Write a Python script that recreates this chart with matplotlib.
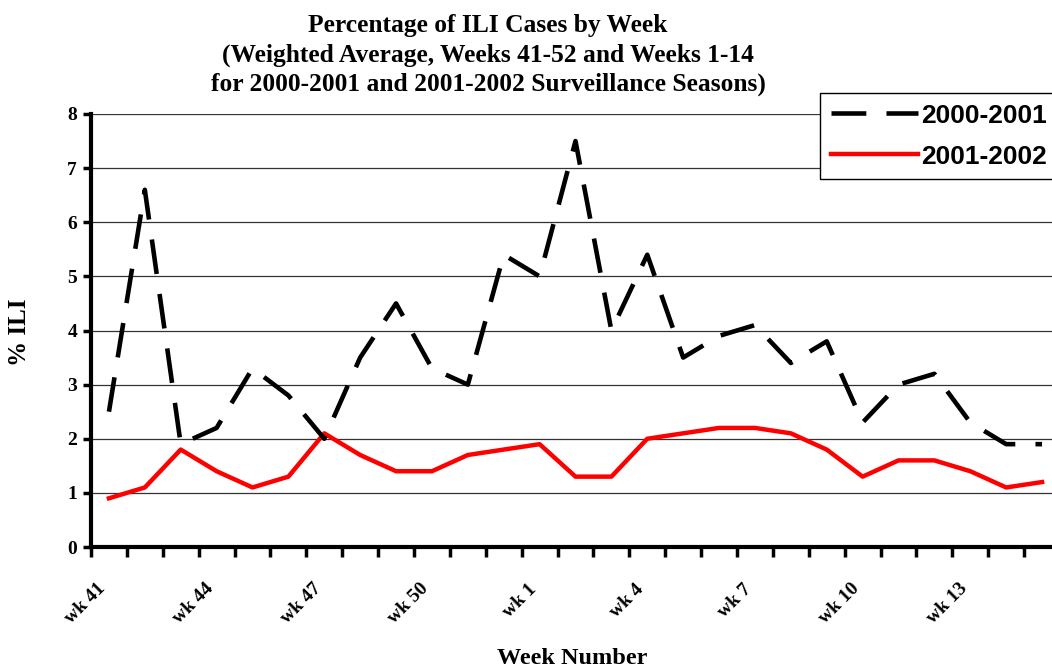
import matplotlib
matplotlib.use("Agg")
import matplotlib.pyplot as plt
import numpy as np

#weeks 41-52 then 1-15
weeks = [f"wk {w}" for w in list(range(41, 53)) + list(range(1, 16))]
season_2000 = [2.5, 6.6, 1.9, 2.2, 3.3, 2.8, 2.0, 3.5, 4.5, 3.3, 3.0, 5.4, 5.0, 7.5,
               4.0, 5.4, 3.5, 3.9, 4.1, 3.4, 3.8, 2.3, 3.0, 3.2, 2.3, 1.9, 1.9]
season_2001 = [0.9, 1.1, 1.8, 1.4, 1.1, 1.3, 2.1, 1.7, 1.4, 1.4, 1.7, 1.8, 1.9, 1.3,
               1.3, 2.0, 2.1, 2.2, 2.2, 2.1, 1.8, 1.3, 1.6, 1.6, 1.4, 1.1, 1.2]
y_ticks = [0, 1, 2, 3, 4, 5, 6, 7, 8]
title_lines = ["Percentage of ILI Cases by Week",
               "(Weighted Average, Weeks 41-52 and Weeks 1-14",
               "for 2000-2001 and 2001-2002 Surveillance Seasons)"]

serif = "Liberation Serif"
sans = "Liberation Sans"

fig = plt.figure(figsize=(10.52, 6.68), dpi=100)
ax = fig.add_axes([91/1052, 1 - 547/668, (1060 - 91)/1052, (547 - 114)/668])

x = np.arange(len(weeks))

#horizontal grid lines
for v in y_ticks[1:]:
    ax.axhline(v, color="#333333", linewidth=0.9, zorder=1)

ax.plot(x, season_2000, color="black", linewidth=3.3, dashes=(7.6, 4.4),
        dash_capstyle="butt", solid_joinstyle="miter", label="2000-2001", zorder=3)
ax.plot(x, season_2001, color="#ff0000", linewidth=3.2, label="2001-2002", zorder=2)

ax.set_xlim(-0.5, len(weeks) - 0.5)
ax.set_ylim(0, 8)

#ticks sit between the categories, labels every third week
ax.set_xticks(np.arange(len(weeks) + 1) - 0.5)
ax.set_xticklabels([])
ax.set_xticks(x[::3], minor=True)
ax.set_xticklabels(weeks[::3], minor=True, rotation=45, ha="right",
                   fontsize=14, fontweight="bold", family=serif)
ax.tick_params(axis="x", which="major", direction="out", length=7, width=2.5)
ax.tick_params(axis="x", which="minor", length=0, pad=24)

ax.set_yticks(y_ticks)
ax.set_yticklabels([str(v) for v in y_ticks], fontsize=14, fontweight="bold", family=serif)
ax.tick_params(axis="y", direction="out", length=6, width=2.5, pad=4)

for side in ["top", "right"]:
    ax.spines[side].set_visible(False)
for side in ["left", "bottom"]:
    ax.spines[side].set_linewidth(3)

#title lines, one baseline each
for line, base in zip(title_lines, [32, 62, 91]):
    fig.text(488/1052, 1 - base/668, line, ha="center", va="baseline",
             fontsize=18.4, fontweight="bold", family=serif)
fig.text(20/1052, 1 - 332/668, "% ILI", rotation=90, ha="center", va="center",
         fontsize=18, fontweight="bold", family=serif)
fig.text(572/1052, 1 - 659/668, "Week Number", ha="center", va="center",
         fontsize=17.5, fontweight="bold", family=serif)

#legend box runs off the right edge like the original
leg = fig.legend(loc="upper left", bbox_to_anchor=(820/1052, 1 - 178/668, 250/1052, 85/668),
                 mode="expand", prop={"family": sans, "weight": "bold", "size": 19},
                 handlelength=3.3, handletextpad=0.15, borderpad=0.4,
                 labelspacing=0.65, fancybox=False, framealpha=1, borderaxespad=0)
leg.get_frame().set_edgecolor("black")
leg.get_frame().set_linewidth(1.0)

fig.savefig("out.png", dpi=100)
plt.close(fig)
